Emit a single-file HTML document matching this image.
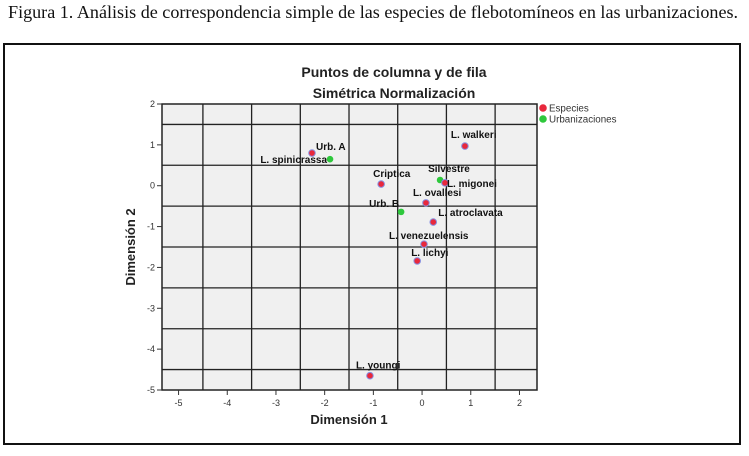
<!DOCTYPE html>
<html><head><meta charset="utf-8"><style>
body{margin:0;background:#fff;width:749px;height:456px;overflow:hidden}
#cap{position:absolute;left:8px;top:2px;font-family:"Liberation Serif",serif;font-size:18.1px;color:#111;white-space:nowrap}
#box{position:absolute;left:3px;top:43px;width:734px;height:398px;border:2px solid #111}
svg{position:absolute;left:0;top:0}
</style></head><body>
<div id="cap">Figura 1. Análisis de correspondencia simple de las especies de flebotomíneos en las urbanizaciones.</div>
<div id="box"></div>
<svg id="chart" width="749" height="456" font-family="Liberation Sans, Arial, sans-serif"></svg>
<script>
const labels=["Urb. A","L. spinicrassa","L. walkeri","Criptica","Silvestre","L. migonei","L. ovallesi","Urb. B","L. atroclavata","L. venezuelensis","L. lichyi","L. youngi"];
const dim1=[-2.26,-1.89,0.88,-0.84,0.37,0.47,0.08,-0.43,0.23,0.04,-0.10,-1.07];
const dim2=[0.80,0.65,0.97,0.04,0.14,0.07,-0.42,-0.64,-0.89,-1.43,-1.84,-4.65];
const groups=["esp","urb","esp","esp","urb","esp","esp","urb","esp","esp","esp","esp"];
const xTicks=[-5,-4,-3,-2,-1,0,1,2];
const yTicks=[2,1,0,-1,-2,-3,-4,-5];
// label offsets (style, not data)
const lblDx=[4,-3,-14,-8,-12,2,-13,-2,5,-35,-6,-14];
const lblDy=[-3,4,-8,-7,-8,4,-7,-5,-6,-5,-5,-7];
const lblAnchor=["start","end","start","start","start","start","start","end","start","start","start","start"];
const X0=162,X1=537,Y0=104,Y1=390,xmin=-5.34,xmax=2.36,ymin=-5,ymax=2;
const sx=v=>X0+(v-xmin)/(xmax-xmin)*(X1-X0);
const sy=v=>Y1-(v-ymin)/(ymax-ymin)*(Y1-Y0);
const svg=document.getElementById('chart');const NS='http://www.w3.org/2000/svg';
function mk(t,a,p){const e=document.createElementNS(NS,t);for(const k in a)e.setAttribute(k,a[k]);(p||svg).appendChild(e);return e;}
let e;
e=mk('rect',{x:X0,y:Y0,width:X1-X0,height:Y1-Y0,fill:'#f0f0f0',stroke:'#222','stroke-width':1.5});


for(let v=-4.5;v<=1.5;v+=1){e=mk('line',{x1:sx(v),x2:sx(v),y1:Y0,y2:Y1,stroke:'#222','stroke-width':1.3});

}
for(let v=1.5;v>=-4.5;v-=1){e=mk('line',{x1:X0,x2:X1,y1:sy(v),y2:sy(v),stroke:'#222','stroke-width':1.3});

}
xTicks.forEach(t=>{mk('line',{x1:sx(t),x2:sx(t),y1:Y1,y2:Y1+5,stroke:'#333'});
e=mk('text',{x:sx(t),y:Y1+16,'font-size':9,'text-anchor':'middle',fill:'#333'});e.textContent=t;

});
yTicks.forEach(t=>{mk('line',{x1:X0-5,x2:X0,y1:sy(t),y2:sy(t),stroke:'#333'});
e=mk('text',{x:X0-7,y:sy(t)+3,'font-size':9,'text-anchor':'end',fill:'#333'});e.textContent=t;

});
e=mk('text',{x:349,y:424,'font-size':13,'font-weight':'bold','text-anchor':'middle',fill:'#222'});e.textContent='Dimensión 1';


e=mk('text',{x:0,y:0,'font-size':13,'font-weight':'bold','text-anchor':'middle',fill:'#222',transform:'translate(135,247) rotate(-90)'});e.textContent='Dimensión 2';


e=mk('text',{x:394,y:77,'font-size':14,'font-weight':'bold','text-anchor':'middle',fill:'#222'});e.textContent='Puntos de columna y de fila';


e=mk('text',{x:394,y:98,'font-size':14,'font-weight':'bold','text-anchor':'middle',fill:'#222'});e.textContent='Simétrica Normalización';


labels.forEach((l,i)=>{const x=sx(dim1[i]),y=sy(dim2[i]);
e=mk('circle',{cx:x,cy:y,r:3.3,fill:groups[i]=='esp'?'#e8283c':'#2ec83c',stroke:groups[i]=='esp'?'#8890e0':'none','stroke-width':1});


e=mk('text',{x:x+lblDx[i],y:y+lblDy[i],'font-size':10,'font-weight':'bold','text-anchor':lblAnchor[i],fill:'#111'});e.textContent=l;

});
[["Especies",'#e8283c',108],["Urbanizaciones",'#2ec83c',119]].forEach(d=>{
e=mk('circle',{cx:543,cy:d[2],r:3.8,fill:d[1]});


e=mk('text',{x:549,y:d[2]+3.5,'font-size':9.8,fill:'#333'});e.textContent=d[0];

});
</script>
</body></html>
